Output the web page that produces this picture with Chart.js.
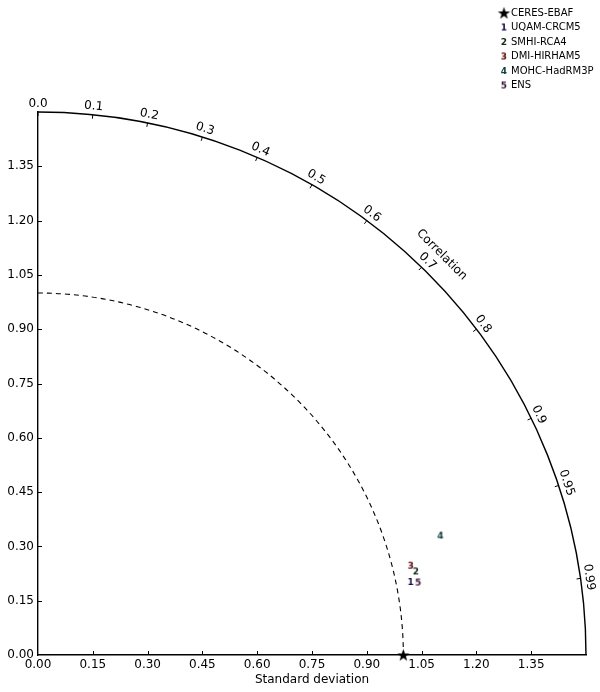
<!DOCTYPE html>
<html><head><meta charset="utf-8">
<script src="https://cdn.jsdelivr.net/npm/chart.js@4/dist/chart.umd.min.js"></script>
<style>html,body{margin:0;padding:0;background:#fff}#wrap{width:600px;height:692px}</style>
</head><body><div id="wrap"><canvas id="c" width="600" height="692"></canvas></div>
<script>
// ---- data ----
const refName = 'CERES-EBAF';
const refStd = 1.0;
const refCorr = 1.0;
const modelNames = ['UQAM-CRCM5', 'SMHI-RCA4', 'DMI-HIRHAM5', 'MOHC-HadRM3P', 'ENS'];
const modelMarkers = ['1', '2', '3', '4', '5'];
const modelStd = [1.04, 1.06, 1.05, 1.15, 1.06];
const modelCorr = [0.981, 0.976, 0.972, 0.958, 0.982];
const modelColors = ['#14144a', '#142a16', '#5a0c0c', '#133c3c', '#3a1434'];
const stdTicks = [0, 0.15, 0.30, 0.45, 0.60, 0.75, 0.90, 1.05, 1.20, 1.35];
const corrTicks = [0, 0.1, 0.2, 0.3, 0.4, 0.5, 0.6, 0.7, 0.8, 0.9, 0.95, 0.99];
const corrTickLabels = ['0.0', '0.1', '0.2', '0.3', '0.4', '0.5', '0.6', '0.7', '0.8', '0.9', '0.95', '0.99'];
const maxStd = 1.5;
const refArcStd = 1.0;

const FONT = '"DejaVu Sans", sans-serif';

function digitCanvas(d, color) {
  const c = document.createElement('canvas');
  c.width = 10; c.height = 12;
  const x = c.getContext('2d');
  x.fillStyle = color;
  x.font = 'bold 9px ' + FONT;
  x.textAlign = 'center';
  x.textBaseline = 'middle';
  x.fillText(d, 5, 6.5);
  return c;
}
function starCanvas() {
  const c = document.createElement('canvas');
  c.width = 15; c.height = 15;
  const x = c.getContext('2d');
  x.fillStyle = '#000';
  x.beginPath();
  for (let i = 0; i < 10; i++) {
    const r = i % 2 === 0 ? 6.5 : 2.6;
    const a = -Math.PI / 2 + i * Math.PI / 5;
    const px = 7.5 + r * Math.cos(a), py = 8 + r * Math.sin(a);
    if (i === 0) x.moveTo(px, py); else x.lineTo(px, py);
  }
  x.closePath();
  x.fill();
  return c;
}
const starImg = starCanvas();
const digitImgs = modelMarkers.map((m, i) => digitCanvas(m, modelColors[i]));

function toXY(s, c) { return { x: s * c, y: s * Math.sqrt(Math.max(0, 1 - c * c)) }; }

const datasets = [{
  label: refName,
  data: [toXY(refStd, refCorr)],
  pointStyle: starImg,
  pointRadius: 7,
  clip: false
}];
modelNames.forEach((n, i) => {
  datasets.push({
    label: n,
    data: [toXY(modelStd[i], modelCorr[i])],
    pointStyle: digitImgs[i],
    pointRadius: 5,
    clip: false
  });
});

const taylorPlugin = {
  id: 'taylor',
  beforeDatasetsDraw(chart) {
    const ctx = chart.ctx, xs = chart.scales.x, ys = chart.scales.y;
    const cx = xs.getPixelForValue(0), cy = ys.getPixelForValue(0);
    const kx = xs.getPixelForValue(1) - cx, ky = cy - ys.getPixelForValue(1);
    ctx.save();
    // axis ticks (inward)
    ctx.strokeStyle = '#000'; ctx.lineWidth = 1;
    stdTicks.forEach(v => {
      if (v === 0) return;
      const px = Math.round(xs.getPixelForValue(v)) + 0.5;
      ctx.beginPath(); ctx.moveTo(px, cy); ctx.lineTo(px, cy - 4); ctx.stroke();
      const py = Math.round(ys.getPixelForValue(v)) + 0.5;
      ctx.beginPath(); ctx.moveTo(cx, py); ctx.lineTo(cx + 4, py); ctx.stroke();
    });
    // outer arc
    ctx.lineWidth = 1.4;
    ctx.beginPath();
    ctx.ellipse(cx, cy, kx * maxStd, ky * maxStd, 0, -Math.PI / 2, 0);
    ctx.stroke();
    // dashed reference arc
    ctx.setLineDash([5, 4]);
    ctx.lineWidth = 1.1;
    ctx.beginPath();
    ctx.ellipse(cx, cy, kx * refArcStd, ky * refArcStd, 0, -Math.PI / 2, 0);
    ctx.stroke();
    ctx.setLineDash([]);
    // correlation ticks and labels
    ctx.fillStyle = '#000';
    ctx.font = '12px ' + FONT;
    ctx.textAlign = 'center';
    ctx.textBaseline = 'middle';
    corrTicks.forEach((c, i) => {
      const th = Math.acos(c);
      const ux = Math.cos(th), uy = Math.sin(th);
      const ax = cx + kx * maxStd * ux, ay = cy - ky * maxStd * uy;
      ctx.lineWidth = 1;
      ctx.beginPath(); ctx.moveTo(ax, ay); ctx.lineTo(ax - 4 * ux, ay + 4 * uy); ctx.stroke();
      const lx = ax + 8.5 * ux, ly = ay - 8.5 * uy;
      ctx.save();
      ctx.translate(lx, ly);
      ctx.rotate(Math.asin(c));
      ctx.fillText(corrTickLabels[i], 0, 0);
      ctx.restore();
    });
    // Correlation title
    const tt = Math.PI / 4;
    const tx = cx + kx * maxStd * Math.cos(tt) + 23 * Math.cos(tt);
    const ty = cy - ky * maxStd * Math.sin(tt) - 23 * Math.sin(tt);
    ctx.save();
    ctx.translate(tx, ty);
    ctx.rotate(Math.PI / 4);
    ctx.font = '12px ' + FONT;
    ctx.fillText('Correlation', 0, 0);
    ctx.restore();
    ctx.restore();
  },
  afterDraw(chart) {
    const ctx = chart.ctx;
    ctx.save();
    ctx.font = '10px ' + FONT;
    ctx.fillStyle = '#000';
    ctx.textAlign = 'left';
    ctx.textBaseline = 'middle';
    chart.data.datasets.forEach((ds, i) => {
      const y = 13 + i * 14.5;
      const img = ds.pointStyle;
      ctx.drawImage(img, 504 - img.width / 2, y - img.height / 2);
      ctx.fillText(ds.label, 511, y);
    });
    ctx.restore();
  }
};

Chart.defaults.color = '#000';
Chart.defaults.font.family = FONT;

new Chart(document.getElementById('c'), {
  type: 'scatter',
  data: { datasets },
  options: {
    responsive: false,
    devicePixelRatio: 1,
    animation: false,
    layout: { padding: { top: 112, right: 14, left: 0, bottom: 0 } },
    plugins: { legend: { display: false }, tooltip: { enabled: false } },
    scales: {
      x: {
        type: 'linear', min: 0, max: maxStd,
        grid: { display: true, drawOnChartArea: false, drawTicks: false },
        border: { display: true, color: '#000', width: 1.4 },
        afterBuildTicks: s => { s.ticks = stdTicks.map(v => ({ value: v })); },
        afterFit: s => { s.height = 37; },
        ticks: { autoSkip: false, maxRotation: 0, padding: 3, font: { size: 12 }, callback: v => Number(v).toFixed(2) },
        title: { display: true, text: 'Standard deviation', font: { size: 12 }, padding: { top: 0, bottom: 5 } }
      },
      y: {
        type: 'linear', min: 0, max: maxStd,
        grid: { display: true, drawOnChartArea: false, drawTicks: false },
        border: { display: true, color: '#000', width: 1.4 },
        afterBuildTicks: s => { s.ticks = stdTicks.map(v => ({ value: v })); },
        afterFit: s => { s.width = 38; },
        ticks: { autoSkip: false, padding: 4, font: { size: 12 }, callback: v => Number(v).toFixed(2) }
      }
    }
  },
  plugins: [taylorPlugin]
});
</script></body></html>
